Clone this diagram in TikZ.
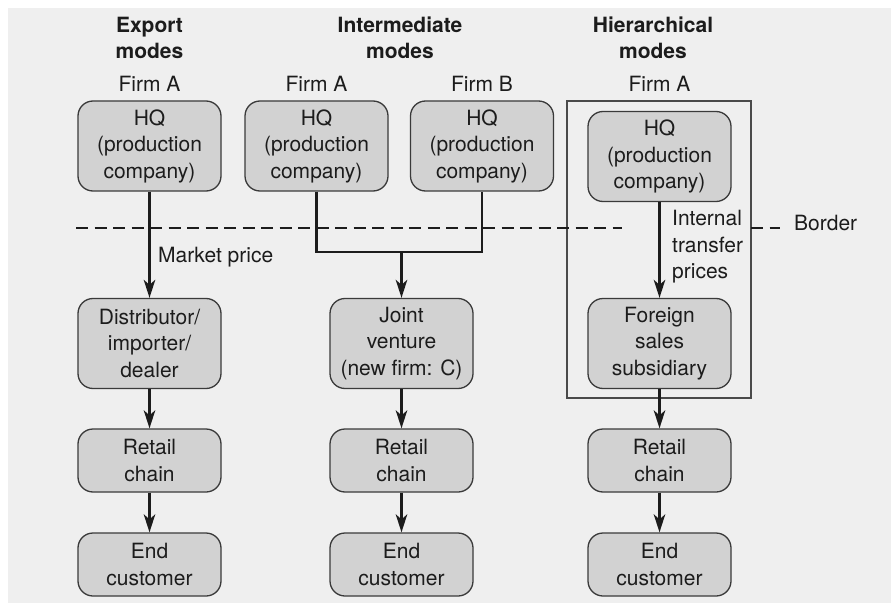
\documentclass[tikz,border=0pt]{standalone}
\usepackage{fontspec}
\setmainfont{TeX Gyre Heros}
\usetikzlibrary{arrows.meta}
\definecolor{bgcol}{HTML}{EFEFEF}
\definecolor{boxfill}{HTML}{D2D2D2}
\definecolor{boxline}{HTML}{3A3A3A}
\definecolor{inkcol}{HTML}{1C1C1C}
\definecolor{framecol}{HTML}{4A4A4A}
\tikzset{
  unit/.style={draw=boxline, fill=boxfill, line width=1.3pt, rounded corners=15pt,
    minimum width=143pt, inner sep=0pt, align=center, text=inkcol,
    font=\fontsize{21}{26.5}\selectfont},
  tallbox/.style={unit, minimum height=90pt},
  shortbox/.style={unit, minimum height=63pt},
  heading/.style={align=center, text=inkcol, inner sep=0pt,
    font=\fontsize{21}{26}\selectfont\bfseries},
  firmlabel/.style={text=inkcol, inner sep=0pt, font=\fontsize{21}{26}\selectfont},
  note/.style={text=inkcol, inner sep=0pt, align=left,
    font=\fontsize{21}{26.5}\selectfont},
  flow/.style={draw=inkcol, line width=2.2pt},
  arr/.style={flow, -{Stealth[length=18pt,width=11.5pt,inset=5pt]}},
  borderline/.style={draw=inkcol, line width=2.5pt, dash pattern=on 12pt off 6.5pt},
}
\begin{document}
\begin{tikzpicture}[x=1pt, y=-1pt]
  \useasboundingbox (0,0) rectangle (891,604);
  \fill[bgcol] (8,8) rectangle (891,603);

  % column headings
  \node[heading] (hexp) at (149.5,38) {Export\\modes};
  \node[heading] (hint) at (400,38) {Intermediate\\modes};
  \node[heading] (hhier) at (653,38) {Hierarchical\\modes};

  \node[firmlabel] (fa1) at (149.5,84) {Firm A};
  \node[firmlabel] (fa2) at (316.5,84) {Firm A};
  \node[firmlabel] (fb) at (482,84) {Firm B};
  \node[firmlabel] (fa3) at (659.5,84) {Firm A};

  % frame around the hierarchical company
  \draw[framecol, line width=1.3pt] (567,101) rectangle (751,398);

  % national border
  \coordinate (b1) at (76,228);
  \coordinate (b2) at (622,228);
  \coordinate (b3) at (751,228);
  \coordinate (b4) at (780,228);
  \draw[borderline] (b1) -- (b2);
  \draw[borderline] (b3) -- (b4);
  \node[note, anchor=west] (border) at (794,223) {Border};

  % export modes
  \node[tallbox] (e1) at (149.5,146) {HQ\\(production\\company)};
  \node[tallbox] (e2) at (149.5,343.5) {Distributor/\\importer/\\dealer};
  \node[shortbox] (e3) at (149.5,460.5) {Retail\\chain};
  \node[shortbox] (e4) at (149.5,564.5) {End\\customer};

  % intermediate modes
  \node[tallbox] (i1) at (316.5,146) {HQ\\(production\\company)};
  \node[tallbox] (i2) at (482,146) {HQ\\(production\\company)};
  \node[tallbox] (i3) at (401.5,343.5) {Joint\\venture\\(new firm: C)};
  \node[shortbox] (i4) at (401.5,460.5) {Retail\\chain};
  \node[shortbox] (i5) at (401.5,564.5) {End\\customer};

  % hierarchical modes
  \node[tallbox] (h1) at (659.5,156.5) {HQ\\(production\\company)};
  \node[tallbox] (h2) at (659.5,343.5) {Foreign\\sales\\subsidiary};
  \node[shortbox] (h3) at (659.5,460.5) {Retail\\chain};
  \node[shortbox] (h4) at (659.5,564.5) {End\\customer};

  % connectors
  \draw[arr] (e1.south) -- (e2.north);
  \draw[arr] (e2.south) -- (e3.north);
  \draw[arr] (e3.south) -- (e4.north);
  \node[note, anchor=west] (mp) at (158,257) {Market price};

  \coordinate (jl) at (316.5,252);
  \coordinate (jm) at (401.5,252);
  \coordinate (jr) at (482,252);
  \draw[flow, line join=miter] (i1.south) -- (jl) -- (jr) -- (i2.south);
  \draw[arr] (jm) -- (i3.north);
  \draw[arr] (i3.south) -- (i4.north);
  \draw[arr] (i4.south) -- (i5.north);

  \draw[arr] (h1.south) -- (h2.north);
  \draw[arr] (h2.south) -- (h3.north);
  \draw[arr] (h3.south) -- (h4.north);
  \node[note, anchor=north west] (itp) at (672,210) {Internal\\transfer\\prices};
\end{tikzpicture}
\end{document}
